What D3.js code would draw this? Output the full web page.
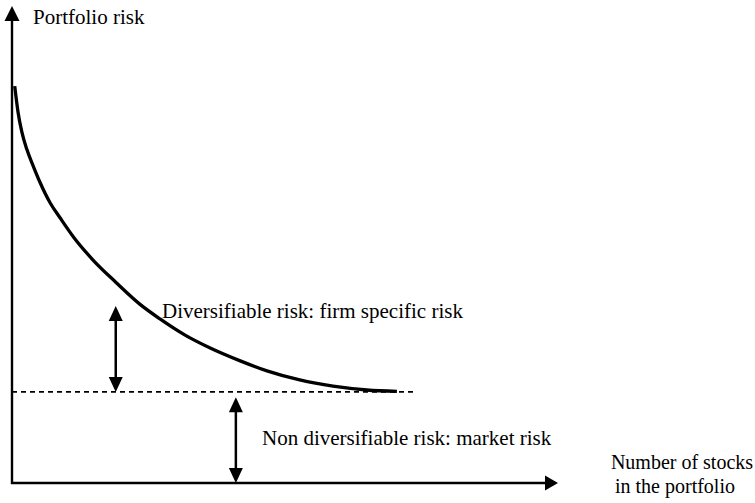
<!DOCTYPE html>
<html>
<head>
<meta charset="utf-8">
<script src="https://cdn.jsdelivr.net/npm/d3@7"></script>
</head>
<body style="margin:0">
<div id="chart"></div>
<script>
// stocks held (0-100 scale) vs total portfolio risk (0-100 scale)
var stocks = [0.5, 1.1, 1.8, 2.7, 3.8, 5.1, 7.0, 8.8, 11.5, 14.8, 19.0, 23.4, 27.1, 31.7, 36.3, 41.8, 46.7, 52.7, 58.8, 65.0, 70.5];
var risk   = [83.2, 77.8, 73.6, 70.0, 66.7, 63.1, 58.7, 55.6, 51.2, 46.8, 42.1, 37.5, 34.4, 31.0, 28.3, 25.6, 23.5, 21.6, 20.3, 19.5, 19.2];
var marketRisk = 19.1;
var marketLineEnd = 73.8;
var firmArrow = { at: 19.0, top: 37.1 };
var marketArrow = { at: 41.0, top: 18.0 };
var labels = ['Portfolio risk', 'Diversifiable risk: firm specific risk',
              'Non diversifiable risk: market risk', 'Number of stocks', 'in the portfolio'];

function renderChart() {
  var width = 755;
  var height = 503;
  var chart = d3.select('#chart').append('svg')
    .attr('width', width)
    .attr('height', height);

  var x = d3.scaleLinear().domain([0, 100]).range([12, 558]);
  var y = d3.scaleLinear().domain([0, 100]).range([483, 6]);

  // filled triangle, tip at (tx, ty), pointing dir
  function head(tx, ty, dir, len, half) {
    var pts;
    if (dir === 'up') pts = [[tx, ty], [tx - half, ty + len], [tx + half, ty + len]];
    if (dir === 'down') pts = [[tx, ty], [tx - half, ty - len], [tx + half, ty - len]];
    if (dir === 'right') pts = [[tx, ty], [tx - len, ty - half], [tx - len, ty + half]];
    chart.append('path')
      .attr('d', 'M' + pts.join('L') + 'Z')
      .attr('fill', '#000');
  }

  // axes
  chart.append('line')
    .attr('x1', x(0)).attr('y1', y(0) + 1)
    .attr('x2', x(0)).attr('y2', y(100) + 14)
    .attr('stroke', '#000').attr('stroke-width', 2.4);
  head(x(0), y(100), 'up', 15, 7.5);

  chart.append('line')
    .attr('x1', x(0) - 1).attr('y1', y(0))
    .attr('x2', x(100) - 12).attr('y2', y(0))
    .attr('stroke', '#000').attr('stroke-width', 2.4);
  head(x(100), y(0), 'right', 13, 7.5);

  // market risk level
  chart.append('line')
    .attr('x1', x(0)).attr('y1', y(marketRisk))
    .attr('x2', x(marketLineEnd)).attr('y2', y(marketRisk))
    .attr('stroke', '#000').attr('stroke-width', 1.9)
    .attr('stroke-dasharray', '5,4');

  // risk curve
  var line = d3.line()
    .x(function(d) { return x(d[0]); })
    .y(function(d) { return y(d[1]); })
    .curve(d3.curveMonotoneX);
  chart.append('path')
    .datum(d3.zip(stocks, risk))
    .attr('d', line)
    .attr('fill', 'none')
    .attr('stroke', '#000')
    .attr('stroke-width', 3.3);

  // double arrows
  function doubleArrow(ax, top, bottom) {
    chart.append('line')
      .attr('x1', x(ax)).attr('y1', y(top) + 10)
      .attr('x2', x(ax)).attr('y2', y(bottom) - 10)
      .attr('stroke', '#000').attr('stroke-width', 2.5);
    head(x(ax), y(top), 'up', 15, 7);
    head(x(ax), y(bottom), 'down', 15, 7);
  }
  doubleArrow(firmArrow.at, firmArrow.top, marketRisk);
  doubleArrow(marketArrow.at, marketArrow.top, 0);

  // texts
  var texts = [
    { t: labels[0], x: 33, y: 24, size: 21, anchor: 'start' },
    { t: labels[1], x: 162, y: 318, size: 21, anchor: 'start' },
    { t: labels[2], x: 262, y: 445, size: 21, anchor: 'start' },
    { t: labels[3], x: 682, y: 469, size: 20, anchor: 'middle' },
    { t: labels[4], x: 675, y: 493, size: 20, anchor: 'middle' }
  ];
  chart.selectAll('text')
    .data(texts).enter()
    .append('text')
    .attr('x', function(d) { return d.x; })
    .attr('y', function(d) { return d.y; })
    .attr('text-anchor', function(d) { return d.anchor; })
    .style('font-family', '"Liberation Serif"')
    .style('font-size', function(d) { return d.size + 'px'; })
    .text(function(d) { return d.t; });
}

renderChart();
</script>
</body>
</html>
